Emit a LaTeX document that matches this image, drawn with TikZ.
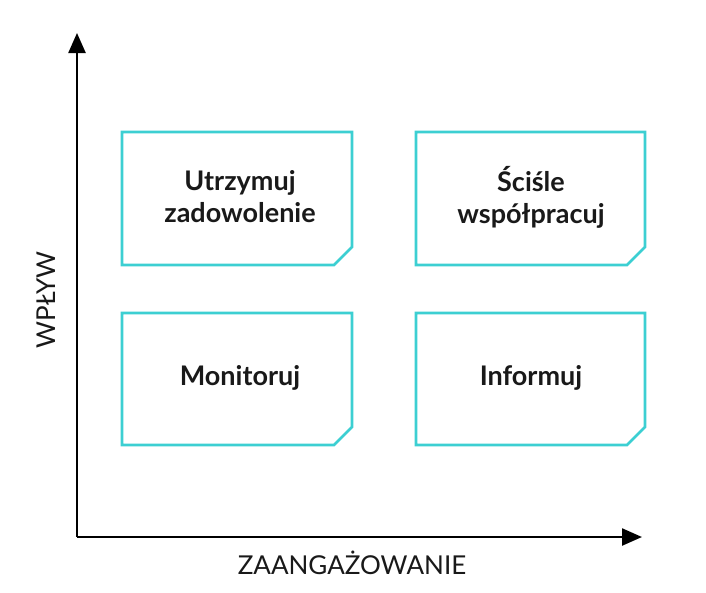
\documentclass[tikz,border=0pt]{standalone}
\usepackage{fontspec}
\setmainfont{Lato}
\usetikzlibrary{arrows.meta}
\definecolor{tq}{HTML}{3CCFD2}
\begin{document}
\begin{tikzpicture}[x=1pt,y=-1pt,
  quad/.style={draw=tq,line width=2.6pt},
  lbl/.style={font=\fontsize{27}{32}\selectfont\bfseries,align=center,text=black!90},
  axl/.style={font=\fontsize{26}{30}\selectfont,text=black!90}]
\useasboundingbox (0,0) rectangle (706,592);
\newcommand\qbox[4]{%
  \draw[quad] (#1,#2) -- (#3,#2) -- (#3,#4-18) -- (#3-18,#4) -- (#1,#4) -- cycle;}
\qbox{122}{132}{352}{265}
\qbox{416}{132}{645}{265}
\qbox{122}{313}{352}{445}
\qbox{416}{313}{645}{445}
\node[lbl] (a) at (240,197) {Utrzymuj\\zadowolenie};
\node[lbl] (b) at (531,197) {Ściśle\\współpracuj};
\node[lbl] (c) at (240,378) {Monitoruj};
\node[lbl] (d) at (531,378) {Informuj};
\coordinate (o) at (77,537);
\coordinate (yt) at (77,33);
\coordinate (xt) at (642,537);
\draw[line width=2.4pt,-{Triangle[length=20pt,width=17pt]}] (o) -- (yt);
\draw[line width=2.4pt,-{Triangle[length=20pt,width=17pt]}] (o) -- (xt);
\node[axl,rotate=90] (yl) at (46,300) {WPŁYW};
\node[axl] (xl) at (352,563) {ZAANGAŻOWANIE};
\end{tikzpicture}
\end{document}
